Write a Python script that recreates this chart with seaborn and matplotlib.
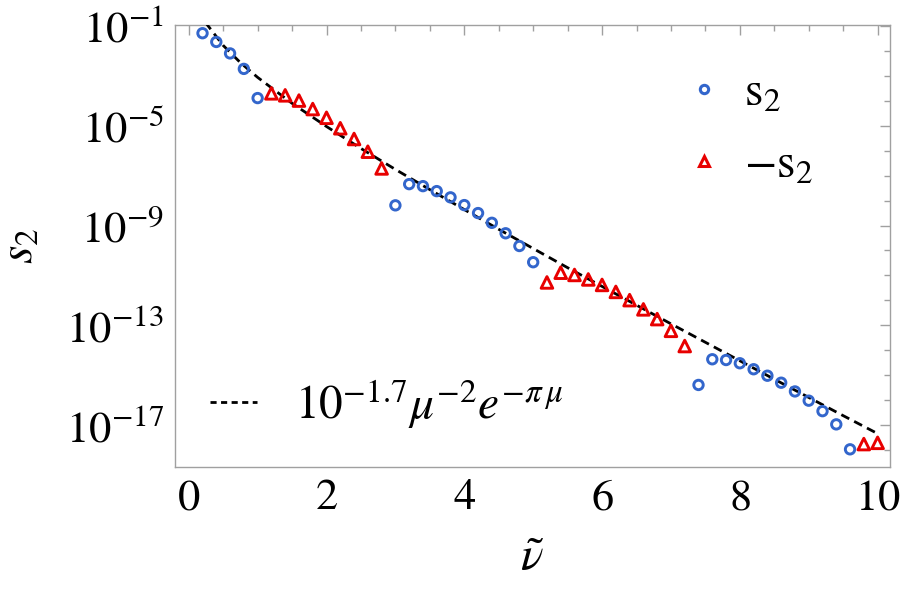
import numpy as np
import pandas as pd
import seaborn as sns
import matplotlib.pyplot as plt
from matplotlib.lines import Line2D
from matplotlib.ticker import FixedLocator, MultipleLocator, NullFormatter

# === Veri (log10) ===
blue_nu = [0.2, 0.4, 0.6, 0.8, 1.0, 3.0, 3.2, 3.4, 3.6, 3.8, 4.0, 4.2, 4.4, 4.6,
           4.8, 5.0, 7.4, 7.6, 7.8, 8.0, 8.2, 8.4, 8.6, 8.8, 9.0, 9.2, 9.4, 9.6]
blue_log = [-1.29, -1.64, -2.10, -2.72, -3.89, -8.19, -7.34, -7.42, -7.62, -7.87,
            -8.18, -8.50, -8.89, -9.31, -9.82, -10.47, -15.39, -14.36, -14.39,
            -14.52, -14.76, -15.02, -15.30, -15.65, -16.02, -16.44, -16.97, -17.97]

red_nu = [1.2, 1.4, 1.6, 1.8, 2.0, 2.2, 2.4, 2.6, 2.8, 5.2, 5.4, 5.6, 5.8, 6.0,
          6.2, 6.4, 6.6, 6.8, 7.0, 7.2, 9.8, 10.0]
red_log = [-3.70, -3.78, -3.99, -4.33, -4.68, -5.10, -5.53, -6.04, -6.71, -11.28,
           -10.89, -10.98, -11.16, -11.38, -11.66, -11.99, -12.36, -12.75, -13.22,
           -13.83, -17.76, -17.71]

# kesikli eğri (okunan noktalar)
fit_nu = [0.24, 0.5, 0.75, 1.0, 1.5, 2.0, 2.5, 3.0, 3.5, 4.0, 4.5, 5.0, 5.5, 6.0,
          6.5, 7.0, 7.5, 8.0, 8.5, 9.0, 9.5, 10.0]
fit_log = [-0.85, -1.78, -2.47, -3.06, -4.10, -5.03, -5.91, -6.75, -7.56, -8.36,
           -9.15, -9.92, -10.69, -11.44, -12.19, -12.94, -13.68, -14.42, -15.16,
           -15.89, -16.62, -17.34]

x_ticks = [0, 2, 4, 6, 8, 10]
x_tick_labels = [r'$0$', r'$2$', r'$4$', r'$6$', r'$8$', r'$10$']
y_ticks = [1e-1, 1e-5, 1e-9, 1e-13, 1e-17]
y_tick_labels = [r'$10^{-1}$', r'$10^{-5}$', r'$10^{-9}$', r'$10^{-13}$', r'$10^{-17}$']

blue = '#3366CC'
red = '#E80000'
frame = '#A0A0A0'

df_blue = pd.DataFrame({'nu': blue_nu, 's2': 10.0 ** np.array(blue_log)})
df_red = pd.DataFrame({'nu': red_nu, 's2': 10.0 ** np.array(red_log)})
df_fit = pd.DataFrame({'nu': fit_nu, 's2': 10.0 ** np.array(fit_log)})

# === Stil ===
sns.set_style('white')
plt.rcParams['font.family'] = ['Liberation Serif', 'DejaVu Serif']
plt.rcParams['mathtext.fontset'] = 'stix'
plt.rcParams['text.color'] = 'black'
plt.rcParams['axes.labelcolor'] = 'black'

fs = 32

fig, ax = plt.subplots(figsize=(9, 5.92), dpi=100)
fig.subplots_adjust(left=0.1944, right=0.9889, top=0.9578, bottom=0.2111)

sns.lineplot(data=df_fit, x='nu', y='s2', ax=ax, color='black', lw=2,
             linestyle=(0, (3.2, 2)), zorder=3)
sns.scatterplot(data=df_blue, x='nu', y='s2', ax=ax, marker='o', s=46,
                fc='none', ec=blue, linewidth=2.1, zorder=4)
sns.scatterplot(data=df_red, x='nu', y='s2', ax=ax, marker='^', s=70,
                fc='none', ec=red, linewidth=2.1, zorder=4)

ax.set_yscale('log')
ax.set_xlim(-0.2, 10.18)
ax.set_ylim(10 ** -18.68, 10 ** -0.96)

ax.set_xticks(x_ticks)
ax.set_xticklabels(x_tick_labels)
ax.xaxis.set_minor_locator(MultipleLocator(0.5))
ax.yaxis.set_major_locator(FixedLocator(y_ticks))
ax.set_yticklabels(y_tick_labels)
ax.yaxis.set_minor_locator(FixedLocator([10.0 ** k for k in range(-18, 0)]))
ax.yaxis.set_minor_formatter(NullFormatter())

ax.tick_params(which='both', direction='in', top=True, right=True,
               color=frame, width=1, labelsize=fs, labelcolor='black', pad=8)
ax.tick_params(which='major', length=7)
ax.tick_params(which='minor', length=4)
for sp in ax.spines.values():
    sp.set_color(frame)
    sp.set_linewidth(1)

ax.set_xlabel(r'$\tilde{\nu}$', fontsize=fs + 2)
ax.set_ylabel(r'$s_2$', fontsize=fs + 2)
ax.xaxis.set_label_coords(0.5, -0.16)
ax.yaxis.set_label_coords(-0.185, 0.5)

# === Lejantlar ===
h1 = [Line2D([], [], ls='', marker='o', ms=6, mfc='none', mec=blue, mew=2.2),
      Line2D([], [], ls='', marker='^', ms=6.5, mfc='none', mec=red, mew=2.2)]
leg1 = ax.legend(h1, [r'$\mathrm{s}_2$', r'$-\mathrm{s}_2$'], loc='center left',
                 bbox_to_anchor=(0.71, 0.7624), frameon=False, fontsize=fs + 2,
                 handlelength=0.9, handletextpad=0.4, labelspacing=0.6,
                 borderpad=0, borderaxespad=0)
ax.add_artist(leg1)

h2 = [Line2D([], [], color='black', lw=2, linestyle=(0, (2.2, 1.6)))]
ax.legend(h2, [r'$10^{-1.7}\mu^{-2}e^{-\pi\,\mu}$'], loc='center left',
          bbox_to_anchor=(0.049, 0.1425), frameon=False, fontsize=fs + 2,
          handlelength=1.0, handletextpad=0.8, borderpad=0, borderaxespad=0)

plt.savefig('out.png', dpi=100)
